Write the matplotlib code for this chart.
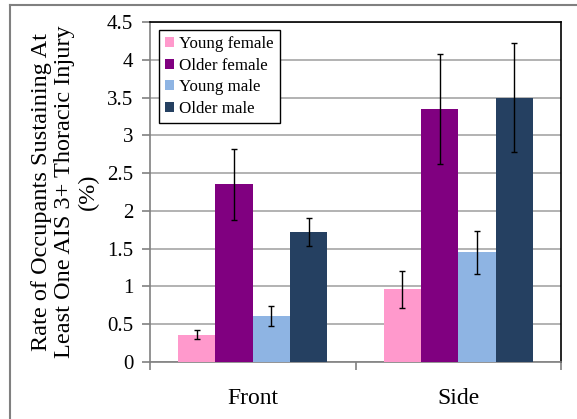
import numpy as np
import matplotlib
matplotlib.use("Agg")
import matplotlib.pyplot as plt
from matplotlib.lines import Line2D

plt.rcParams['font.family'] = ['Liberation Serif', 'DejaVu Serif']

# data
impact = ['Front', 'Side']
groups = ['Young female', 'Older female', 'Young male', 'Older male']
rates = {
    'Young female': [0.36, 0.96],
    'Older female': [2.35, 3.35],
    'Young male': [0.61, 1.45],
    'Older male': [1.72, 3.50],
}
errs = {
    'Young female': [0.06, 0.24],
    'Older female': [0.47, 0.73],
    'Young male': [0.135, 0.29],
    'Older male': [0.19, 0.72],
}
colors = ['#FF99CC', '#800080', '#8EB4E3', '#254061']

fig = plt.figure(figsize=(5.77, 4.19), dpi=100)
ax = fig.add_axes([150/577, (419-362)/419, (561-150)/577, (362-22)/419])

# outer frame (cropped on right and bottom)
fig.add_artist(Line2D([10/577, 1.0], [1-5/419, 1-5/419], color='#808080', lw=1.5, transform=fig.transFigure))
fig.add_artist(Line2D([10/577, 10/577], [0, 1-5/419], color='#808080', lw=1.5, transform=fig.transFigure))

x = np.arange(len(impact))
w = 0.1815
for i, g in enumerate(groups):
    pos = x + (i - 1.5) * w
    ax.bar(pos, rates[g], w, color=colors[i], label=g, zorder=3)
    ax.errorbar(pos, rates[g], yerr=errs[g], fmt='none', ecolor='black',
                elinewidth=1, capsize=2.5, capthick=1, zorder=4)

ax.set_xlim(-0.5, 1.5)
ax.set_ylim(0, 4.5)
ax.set_yticks(np.arange(0, 4.51, 0.5))
ax.set_yticklabels(['0', '0.5', '1', '1.5', '2', '2.5', '3', '3.5', '4', '4.5'])
ax.yaxis.grid(True, color='#a6a6a6', lw=1.2, zorder=0)
ax.set_axisbelow(True)

ax.set_xticks(x)
ax.set_xticklabels(impact, fontsize=17)
ax.set_xticks([-0.5, 0.5, 1.5], minor=True)
ax.tick_params(axis='x', which='major', length=0, pad=19)
ax.tick_params(axis='x', which='minor', length=6, color='#808080', width=1.2)
ax.tick_params(axis='y', length=6, color='#808080', width=1.2, labelsize=15, pad=6)

for s in ['left', 'bottom']:
    ax.spines[s].set_color('#808080')
    ax.spines[s].set_linewidth(1.2)
for s in ['top', 'right']:
    ax.spines[s].set_color('black')
    ax.spines[s].set_linewidth(1.2)

ax.set_ylabel('Rate of Occupants Sustaining At\nLeast One AIS 3+ Thoracic Injury\n(%)',
              fontsize=17.5, linespacing=1.15)
ax.yaxis.set_label_coords(-0.125, 0.5)

leg = ax.legend(loc='upper left', bbox_to_anchor=(0.022, 0.976), fontsize=12.2,
                frameon=True, fancybox=False, framealpha=1, edgecolor='black',
                handlelength=0.55, handleheight=0.55, handletextpad=0.3,
                labelspacing=0.33, borderpad=0.35, borderaxespad=0)
leg.get_frame().set_linewidth(1.0)

fig.savefig('out.png', dpi=100)
